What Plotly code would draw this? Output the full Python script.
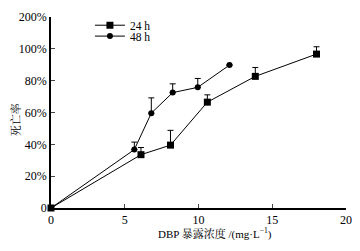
import plotly.graph_objects as go

# Data
x24 = [0, 6.1, 8.1, 10.6, 13.85, 18.0]
y24 = [0, 33.5, 39.5, 66.5, 82.7, 96.7]
e24 = [0, 4.5, 9.3, 4.6, 5.6, 4.6]

x48 = [0, 5.65, 6.8, 8.25, 9.95, 12.1]
y48 = [0, 36.7, 59.6, 72.5, 75.8, 89.8]
e48 = [0, 4.7, 9.6, 5.5, 5.6, 0]

ytickvals = [0, 20, 40, 60, 80, 100, 120]
yticktext = ["0", "20%", "40%", "60%", "80%", "100%", "200%"]
xtickvals = [0, 5, 10, 15, 20]

font_fam = "Liberation Serif, Noto Serif CJK SC, Noto Sans CJK SC, serif"

fig = go.Figure()
fig.add_trace(go.Scatter(
    x=x24, y=y24, name="24 h", mode="lines+markers",
    line=dict(color="black", width=1),
    marker=dict(symbol="square", size=7, color="black"),
    error_y=dict(type="data", array=e24, arrayminus=[0]*len(e24),
                 symmetric=False, color="black", thickness=1, width=3),
    cliponaxis=False, legend="legend",
))
fig.add_trace(go.Scatter(
    x=x48, y=y48, name="48 h", mode="lines+markers",
    line=dict(color="black", width=1),
    marker=dict(symbol="circle", size=6, color="black"),
    error_y=dict(type="data", array=e48, arrayminus=[0]*len(e48),
                 symmetric=False, color="black", thickness=1, width=3),
    cliponaxis=False, legend="legend2",
))

leg_common = dict(xanchor="left", yanchor="middle", bgcolor="rgba(0,0,0,0)",
                  font=dict(size=11.5), itemwidth=30, borderwidth=0)

fig.update_layout(
    width=352, height=243,
    margin=dict(l=43, r=14, t=9, b=43, autoexpand=False),
    paper_bgcolor="white", plot_bgcolor="white",
    font=dict(family=font_fam, size=12, color="black"),
    showlegend=True,
    legend=dict(x=0.132, y=0.957, **leg_common),
    legend2=dict(x=0.132, y=0.900, **leg_common),
    xaxis=dict(range=[0, 20], tickvals=xtickvals, ticks="inside", ticklen=4,
               showline=True, linecolor="black", linewidth=1.5,
               showgrid=False, zeroline=False, automargin=False,
               tickfont=dict(size=12)),
    yaxis=dict(range=[0, 120], tickvals=ytickvals, ticktext=yticktext,
               ticks="inside", ticklen=4,
               showline=True, linecolor="black", linewidth=1.5,
               showgrid=False, zeroline=False, automargin=False,
               tickfont=dict(size=12)),
    annotations=[
        dict(text="DBP 暴露浓度 /(mg·L<sup>−1</sup>)", xref="paper", yref="paper",
             x=0.556, y=-0.131, xanchor="center", yanchor="middle",
             showarrow=False, font=dict(size=11)),
        dict(text="死亡率", xref="paper", yref="paper",
             x=-0.122, y=0.46, xanchor="center", yanchor="middle",
             textangle=-90, showarrow=False, font=dict(size=11)),
    ],
)

fig.write_html("out.html")
